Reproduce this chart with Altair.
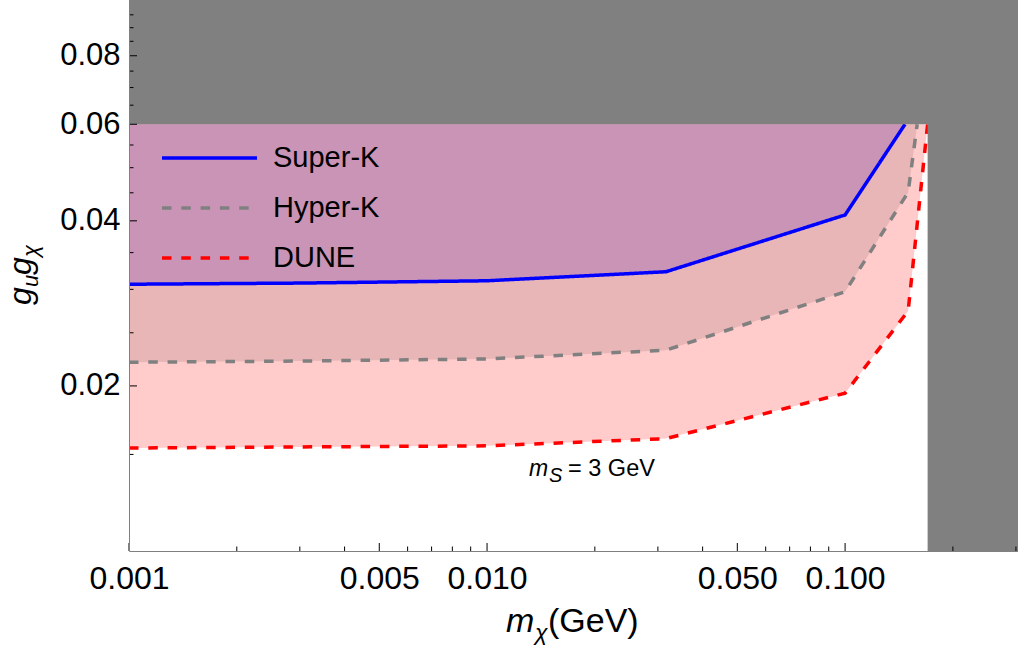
import altair as alt
import pandas as pd

# ---------------- data ----------------
series_names = ["Super-K", "Hyper-K", "DUNE"]

superk_m = [0.001, 0.003, 0.01, 0.0316, 0.1, 0.147]
superk_g = [0.03065, 0.0308, 0.0311, 0.0323, 0.0410, 0.06]

hyperk_m = [0.001, 0.003, 0.01, 0.0316, 0.1, 0.15, 0.159]
hyperk_g = [0.02209, 0.0222, 0.0224, 0.02324, 0.0297, 0.0451, 0.06]

dune_m = [0.001, 0.003, 0.01, 0.0316, 0.1, 0.15, 0.17]
dune_g = [0.01541, 0.01548, 0.01555, 0.01603, 0.0194, 0.0274, 0.06]

g_ceiling = 0.06      # upper edge of the shaded sensitivity regions
m_limit = 0.17        # start of excluded (grey) mass band
x_domain = [0.001, 0.304]
y_domain = [0.01, 0.1011]

x_major = [0.001, 0.005, 0.01, 0.05, 0.1]
x_minor = [0.002, 0.003, 0.004, 0.006, 0.007, 0.008, 0.009,
           0.02, 0.03, 0.04, 0.06, 0.07, 0.08, 0.09, 0.2, 0.3]
y_major = [0.02, 0.04, 0.06, 0.08]
y_minor = [0.015, 0.025, 0.03, 0.035, 0.045, 0.05, 0.055,
           0.065, 0.07, 0.075, 0.085, 0.09, 0.095]

# ---------------- styles / layout ----------------
W, H = 889, 551
FONT = "Liberation Sans"
line_colors = ["#0000FF", "#808080", "#FF0000"]
line_dashes = [[1, 0], [9.5, 9.8], [9.5, 9.8]]
fill_colors = {"Super-K": "#C994B5", "Hyper-K": "#E8B6B6", "DUNE": "#FFCBCB"}
excl_color = "#808080"
LW = 3.5

xs = alt.Scale(type="log", domain=x_domain, nice=False)
ys = alt.Scale(type="log", domain=y_domain, nice=False)

xaxis = alt.Axis(values=x_major, format=".3f", ticks=False, grid=False, title=None,
                 domain=True, domainColor="#808080", domainWidth=1,
                 labelFont=FONT, labelFontSize=32, labelColor="black",
                 labelPadding=12, labelFlush=False, labelOverlap=False, zindex=1)
yaxis = alt.Axis(values=y_major, format=".2f", ticks=False, grid=False, title=None,
                 domain=True, domainColor="#808080", domainWidth=1,
                 labelFont=FONT, labelFontSize=31, labelColor="black",
                 labelPadding=9, labelFlush=False, labelOverlap=False, zindex=1)


def X(field):
    return alt.X(field, type="quantitative", scale=xs, axis=xaxis)


def Y(field):
    return alt.Y(field, type="quantitative", scale=ys, axis=yaxis)


color_scale = alt.Scale(domain=series_names, range=line_colors)
dash_scale = alt.Scale(domain=series_names, range=line_dashes)

frames = {
    "Super-K": pd.DataFrame({"m": superk_m, "g": superk_g, "series": "Super-K"}),
    "Hyper-K": pd.DataFrame({"m": hyperk_m, "g": hyperk_g, "series": "Hyper-K"}),
    "DUNE": pd.DataFrame({"m": dune_m, "g": dune_g, "series": "DUNE"}),
}
lines_df = pd.concat([frames[s] for s in series_names], ignore_index=True)

layers = []

# shaded regions: DUNE first, Super-K on top
for s in ["DUNE", "Hyper-K", "Super-K"]:
    layers.append(
        alt.Chart(frames[s]).mark_area(color=fill_colors[s], opacity=1, interpolate="linear")
        .encode(x=X("m"), y=Y("g"), y2=alt.datum(g_ceiling))
    )

# curves
layers.append(
    alt.Chart(lines_df).mark_line(strokeWidth=LW, strokeCap="butt")
    .encode(x=X("m"), y=Y("g"),
            color=alt.Color("series:N", scale=color_scale, legend=None),
            strokeDash=alt.StrokeDash("series:N", scale=dash_scale, legend=None),
            order="m:Q")
)

# excluded grey regions
excl = pd.DataFrame({
    "m": [x_domain[0], m_limit], "m2": [x_domain[1], x_domain[1]],
    "g": [g_ceiling, y_domain[0]], "g2": [y_domain[1], y_domain[1]],
})
layers.append(
    alt.Chart(excl).mark_rect(color=excl_color, opacity=1)
    .encode(x=X("m"), x2="m2", y=Y("g"), y2="g2")
)

# inward ticks
for vals, ln in [(x_major, 8), (x_minor, 4.5)]:
    layers.append(
        alt.Chart(pd.DataFrame({"m": vals})).mark_rule(color="black", strokeWidth=1)
        .encode(x=X("m"), y=alt.value(H), y2=alt.value(H - ln))
    )
for vals, ln in [(y_major, 8), (y_minor, 4.5)]:
    layers.append(
        alt.Chart(pd.DataFrame({"g": vals})).mark_rule(color="black", strokeWidth=1)
        .encode(y=Y("g"), x=alt.value(0), x2=alt.value(ln))
    )

# legend
leg_rows = [158, 208, 258]
for name, yy in zip(series_names, leg_rows):
    d = pd.DataFrame({"series": [name]})
    layers.append(
        alt.Chart(d).mark_rule(strokeWidth=LW, strokeCap="butt")
        .encode(x=alt.value(33), x2=alt.value(128), y=alt.value(yy),
                color=alt.Color("series:N", scale=color_scale, legend=None),
                strokeDash=alt.StrokeDash("series:N", scale=dash_scale, legend=None))
    )
    layers.append(
        alt.Chart(d).mark_text(align="left", baseline="middle", font=FONT, fontSize=29,
                               color="black")
        .encode(x=alt.value(144), y=alt.value(yy), text="series:N")
    )

one = pd.DataFrame({"a": [0]})


def txt(t, x, y, size, italic=False, angle=0):
    kw = dict(text=t, align="left", baseline="alphabetic", font=FONT, fontSize=size,
              color="black", angle=angle)
    if italic:
        kw["fontStyle"] = "italic"
    return alt.Chart(one).mark_text(**kw).encode(x=alt.value(x), y=alt.value(y))


# annotation  m_S = 3 GeV
layers += [
    txt("m", 400, 476, 23, italic=True),
    txt("S", 420, 482, 20, italic=True),
    txt("= 3 GeV", 439, 476, 23.5),
]
# x title  m_chi (GeV)
layers += [
    txt("m", 377, 632, 34, italic=True),
    txt("χ", 406, 640, 23, italic=True),
    txt("(GeV)", 419, 632, 34),
]
# y title  g_u g_chi (rotated)
layers += [
    txt("g", -98, 305, 32, italic=True, angle=270),
    txt("u", -91, 287, 22, italic=True, angle=270),
    txt("g", -98, 275, 32, italic=True, angle=270),
    txt("χ", -91, 257, 22, italic=True, angle=270),
]

chart = alt.layer(*layers).properties(
    width=W, height=H,
    padding={"left": 129, "top": 0, "right": 0, "bottom": 100},
    autosize=alt.AutoSizeParams(type="none"),
    background="white",
).configure_view(strokeWidth=0)

chart.save("out.html", embed_options={"renderer": "svg", "actions": False})
